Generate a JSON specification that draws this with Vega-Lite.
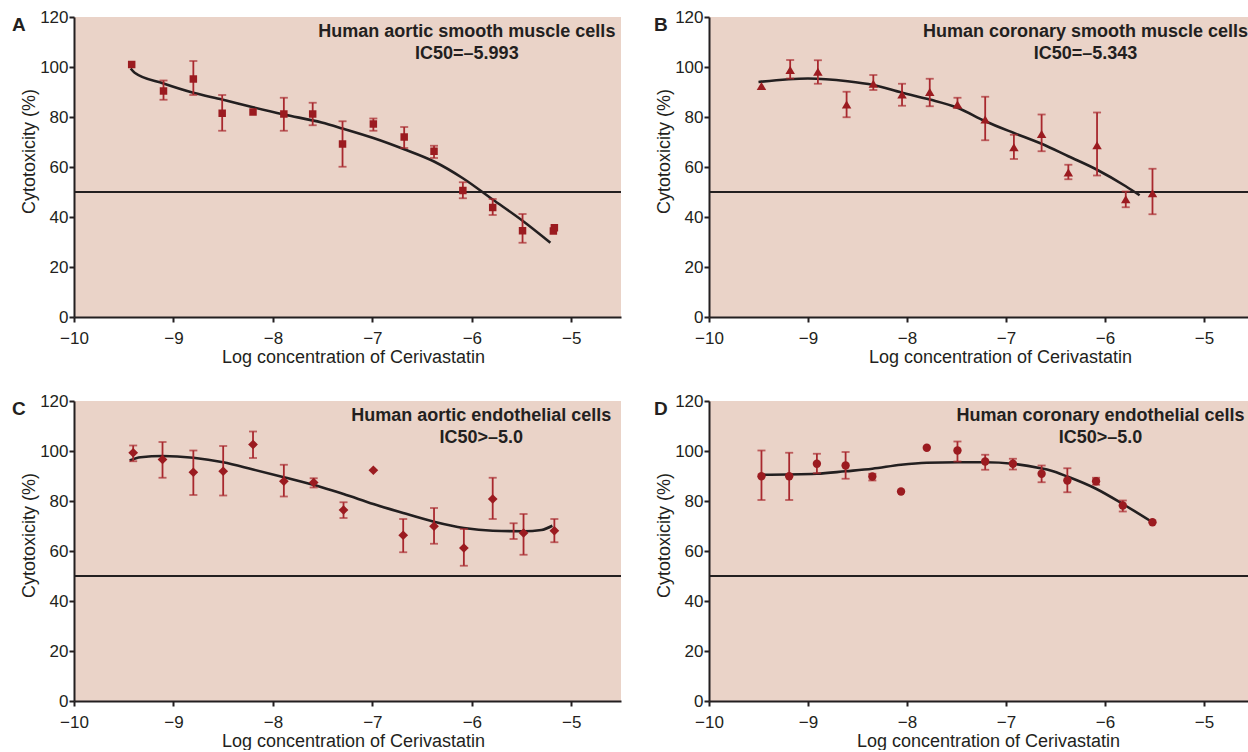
{
  "$schema": "https://vega.github.io/schema/vega-lite/v6.json",
  "padding": {"left": 12, "top": 8, "right": 0, "bottom": 0},
  "background": "white",
  "bounds": "flush",
  "columns": 2,
  "spacing": {"row": 84, "column": 88},
  "datasets": {
    "ptsA": [
      {"x": -9.42, "y": 101.0, "lo": null, "hi": null},
      {"x": -9.10, "y": 90.4, "lo": 86.9, "hi": 94.6},
      {"x": -8.80, "y": 95.2, "lo": 88.8, "hi": 102.4},
      {"x": -8.51, "y": 81.5, "lo": 74.5, "hi": 88.8},
      {"x": -8.20, "y": 82.0, "lo": null, "hi": null},
      {"x": -7.89, "y": 81.2, "lo": 74.5, "hi": 87.7},
      {"x": -7.60, "y": 81.2, "lo": 76.7, "hi": 85.7},
      {"x": -7.30, "y": 69.2, "lo": 60.1, "hi": 78.3},
      {"x": -6.99, "y": 77.2, "lo": 74.5, "hi": 79.4},
      {"x": -6.68, "y": 72.0, "lo": 67.6, "hi": 76.0},
      {"x": -6.38, "y": 66.3, "lo": 63.6, "hi": 68.5},
      {"x": -6.09, "y": 50.6, "lo": 47.5, "hi": 53.9},
      {"x": -5.79, "y": 43.8, "lo": 40.8, "hi": 47.2},
      {"x": -5.49, "y": 34.5, "lo": 29.7, "hi": 41.2},
      {"x": -5.18, "y": 34.4, "lo": null, "hi": null},
      {"x": -5.17, "y": 35.7, "lo": null, "hi": null}
    ],
    "curveA": [
      {"x": -9.43, "y": 99.4}, {"x": -9.39, "y": 97.7}, {"x": -9.10, "y": 93.4},
      {"x": -8.80, "y": 89.7}, {"x": -8.51, "y": 87.0}, {"x": -8.20, "y": 83.9},
      {"x": -7.89, "y": 81.0}, {"x": -7.51, "y": 77.8}, {"x": -7.30, "y": 75.4},
      {"x": -6.99, "y": 71.6}, {"x": -6.68, "y": 67.1}, {"x": -6.38, "y": 62.2},
      {"x": -6.09, "y": 55.5}, {"x": -5.79, "y": 47.0}, {"x": -5.49, "y": 38.5},
      {"x": -5.21, "y": 29.7}
    ],
    "ptsB": [
      {"x": -9.47, "y": 92.4, "lo": null, "hi": null},
      {"x": -9.18, "y": 98.8, "lo": 95.4, "hi": 102.8},
      {"x": -8.90, "y": 98.1, "lo": 93.3, "hi": 102.7},
      {"x": -8.61, "y": 85.0, "lo": 79.9, "hi": 90.1},
      {"x": -8.34, "y": 93.3, "lo": 90.8, "hi": 96.8},
      {"x": -8.05, "y": 89.0, "lo": 84.5, "hi": 93.3},
      {"x": -7.77, "y": 90.0, "lo": 84.3, "hi": 95.3},
      {"x": -7.49, "y": 85.0, "lo": 83.7, "hi": 87.7},
      {"x": -7.21, "y": 79.0, "lo": 70.7, "hi": 88.1},
      {"x": -6.92, "y": 67.9, "lo": 63.2, "hi": 72.9},
      {"x": -6.64, "y": 73.2, "lo": 66.3, "hi": 81.0},
      {"x": -6.37, "y": 57.8, "lo": 55.1, "hi": 60.9},
      {"x": -6.08, "y": 68.7, "lo": 56.6, "hi": 81.8},
      {"x": -5.79, "y": 47.1, "lo": 43.9, "hi": 50.2},
      {"x": -5.52, "y": 49.5, "lo": 41.1, "hi": 59.3}
    ],
    "curveB": [
      {"x": -9.50, "y": 94.0}, {"x": -9.00, "y": 95.4}, {"x": -8.60, "y": 94.3},
      {"x": -8.34, "y": 92.8}, {"x": -8.05, "y": 89.7}, {"x": -7.77, "y": 87.0},
      {"x": -7.49, "y": 83.7}, {"x": -7.21, "y": 78.3}, {"x": -6.92, "y": 73.6},
      {"x": -6.64, "y": 69.3}, {"x": -6.37, "y": 64.3}, {"x": -6.08, "y": 58.9},
      {"x": -5.79, "y": 52.3}, {"x": -5.65, "y": 48.7}
    ],
    "ptsC": [
      {"x": -9.405, "y": 99.3, "lo": 95.9, "hi": 102.2},
      {"x": -9.11, "y": 96.6, "lo": 89.3, "hi": 103.6},
      {"x": -8.80, "y": 91.5, "lo": 82.4, "hi": 100.2},
      {"x": -8.50, "y": 91.9, "lo": 82.2, "hi": 102.0},
      {"x": -8.20, "y": 102.6, "lo": 97.2, "hi": 107.8},
      {"x": -7.89, "y": 87.9, "lo": 81.8, "hi": 94.5},
      {"x": -7.59, "y": 87.4, "lo": 85.4, "hi": 89.1},
      {"x": -7.29, "y": 76.4, "lo": 73.2, "hi": 79.5},
      {"x": -6.99, "y": 92.3, "lo": null, "hi": null},
      {"x": -6.69, "y": 66.3, "lo": 59.5, "hi": 72.8},
      {"x": -6.38, "y": 69.9, "lo": 62.9, "hi": 77.2},
      {"x": -6.08, "y": 61.2, "lo": 54.1, "hi": 68.8},
      {"x": -5.79, "y": 80.8, "lo": 72.8, "hi": 89.3},
      {"x": -5.58, "y": null, "lo": 64.8, "hi": 71.1},
      {"x": -5.48, "y": 67.2, "lo": 58.5, "hi": 74.8},
      {"x": -5.17, "y": 68.1, "lo": 63.5, "hi": 72.8}
    ],
    "curveC": [
      {"x": -9.44, "y": 96.2}, {"x": -9.33, "y": 97.5}, {"x": -9.11, "y": 98.0},
      {"x": -8.80, "y": 97.3}, {"x": -8.50, "y": 95.5}, {"x": -8.20, "y": 92.6},
      {"x": -7.89, "y": 89.5}, {"x": -7.51, "y": 85.5}, {"x": -7.29, "y": 82.8},
      {"x": -6.99, "y": 78.8}, {"x": -6.69, "y": 75.2}, {"x": -6.38, "y": 71.7},
      {"x": -6.08, "y": 69.2}, {"x": -5.79, "y": 68.1}, {"x": -5.48, "y": 67.9},
      {"x": -5.30, "y": 68.4}, {"x": -5.19, "y": 70.1}
    ],
    "ptsD": [
      {"x": -9.47, "y": 89.9, "lo": 80.4, "hi": 100.2},
      {"x": -9.19, "y": 89.9, "lo": 80.4, "hi": 99.3},
      {"x": -8.91, "y": 94.9, "lo": 91.1, "hi": 98.9},
      {"x": -8.62, "y": 94.2, "lo": 88.9, "hi": 99.6},
      {"x": -8.35, "y": 89.8, "lo": 88.2, "hi": 90.9},
      {"x": -8.06, "y": 83.8, "lo": null, "hi": null},
      {"x": -7.80, "y": 101.3, "lo": null, "hi": null},
      {"x": -7.49, "y": 100.2, "lo": 95.8, "hi": 103.8},
      {"x": -7.21, "y": 95.8, "lo": 92.5, "hi": 98.5},
      {"x": -6.93, "y": 94.9, "lo": 92.6, "hi": 96.9},
      {"x": -6.64, "y": 90.9, "lo": 87.5, "hi": 94.2},
      {"x": -6.38, "y": 88.2, "lo": 83.5, "hi": 93.1},
      {"x": -6.09, "y": 87.9, "lo": 86.5, "hi": 89.3},
      {"x": -5.82, "y": 78.2, "lo": 75.8, "hi": 80.2},
      {"x": -5.52, "y": 71.5, "lo": null, "hi": null}
    ],
    "curveD": [
      {"x": -9.47, "y": 90.5}, {"x": -8.91, "y": 90.9}, {"x": -8.62, "y": 91.9},
      {"x": -8.35, "y": 92.9}, {"x": -8.06, "y": 94.5}, {"x": -7.80, "y": 95.3},
      {"x": -7.49, "y": 95.5}, {"x": -7.21, "y": 95.5}, {"x": -6.93, "y": 94.9},
      {"x": -6.65, "y": 93.1}, {"x": -6.55, "y": 92.2}, {"x": -6.38, "y": 89.8},
      {"x": -6.09, "y": 84.9}, {"x": -5.82, "y": 78.8}, {"x": -5.52, "y": 71.5}
    ]
  },
  "concat": [
    {
      "width": 547, "height": 300,
      "layer": [
        {"data": {"values": [{}]}, "mark": {"type": "rule", "color": "#231F20", "strokeWidth": 2}, "encoding": {"y": {"datum": 50, "type": "quantitative", "scale": {"domain": [0, 120], "nice": false}, "axis": {"values": [0, 20, 40, 60, 80, 100, 120], "format": "d", "title": "Cytotoxicity (%)", "titleY": 134}}}},
        {"data": {"name": "curveA"}, "mark": {"type": "line", "interpolate": "monotone", "color": "#231F20", "strokeWidth": 2.6},
         "encoding": {"x": {"field": "x", "type": "quantitative", "scale": {"domain": [-10, -4.5], "nice": false, "zero": false}, "axis": {"values": [-10, -9, -8, -7, -6, -5], "format": "d", "title": "Log concentration of Cerivastatin", "titleX": 279}},
                      "y": {"field": "y", "type": "quantitative", "title": "Cytotoxicity (%)"}}},
        {"data": {"name": "ptsA"}, "transform": [{"filter": "datum.lo != null"}], "mark": {"type": "errorbar", "ticks": true, "color": "#A8282E", "thickness": 1.8, "size": 8},
         "encoding": {"x": {"field": "x", "type": "quantitative", "title": "Log concentration of Cerivastatin"}, "y": {"field": "lo", "type": "quantitative", "title": "Cytotoxicity (%)"}, "y2": {"field": "hi"}}},
        {"data": {"name": "ptsA"}, "mark": {"type": "point", "shape": "square", "filled": true, "opacity": 1, "color": "#9B1B20", "size": 56},
         "encoding": {"x": {"field": "x", "type": "quantitative", "title": "Log concentration of Cerivastatin"}, "y": {"field": "y", "type": "quantitative", "title": "Cytotoxicity (%)"}}},
        {"data": {"values": [{}]}, "mark": {"type": "text", "fontWeight": "bold", "fontSize": 18, "align": "center", "baseline": "alphabetic", "lineBreak": "\n", "lineHeight": 22, "color": "#231F20"},
         "encoding": {"x": {"datum": -6.05, "type": "quantitative"}, "y": {"datum": 112, "type": "quantitative"}, "text": {"value": "Human aortic smooth muscle cells\nIC50=–5.993"}}},
        {"data": {"values": [{}]}, "mark": {"type": "text", "fontWeight": "bold", "fontSize": 19, "align": "left", "baseline": "top", "dx": -62, "dy": -1, "color": "#231F20"},
         "encoding": {"x": {"datum": -10, "type": "quantitative"}, "y": {"datum": 120, "type": "quantitative"}, "text": {"value": "A"}}}
      ]
    },
    {
      "width": 540, "height": 300,
      "layer": [
        {"data": {"values": [{}]}, "mark": {"type": "rule", "color": "#231F20", "strokeWidth": 2}, "encoding": {"y": {"datum": 50, "type": "quantitative", "scale": {"domain": [0, 120], "nice": false}, "axis": {"values": [0, 20, 40, 60, 80, 100, 120], "format": "d", "title": "Cytotoxicity (%)", "titleY": 134}}}},
        {"data": {"name": "curveB"}, "mark": {"type": "line", "interpolate": "monotone", "color": "#231F20", "strokeWidth": 2.6},
         "encoding": {"x": {"field": "x", "type": "quantitative", "scale": {"domain": [-10, -4.545], "nice": false, "zero": false}, "axis": {"values": [-10, -9, -8, -7, -6, -5], "format": "d", "title": "Log concentration of Cerivastatin", "titleX": 291}},
                      "y": {"field": "y", "type": "quantitative", "title": "Cytotoxicity (%)"}}},
        {"data": {"name": "ptsB"}, "transform": [{"filter": "datum.lo != null"}], "mark": {"type": "errorbar", "ticks": true, "color": "#A8282E", "thickness": 1.8, "size": 8},
         "encoding": {"x": {"field": "x", "type": "quantitative", "title": "Log concentration of Cerivastatin"}, "y": {"field": "lo", "type": "quantitative", "title": "Cytotoxicity (%)"}, "y2": {"field": "hi"}}},
        {"data": {"name": "ptsB"}, "mark": {"type": "point", "shape": "triangle-up", "filled": true, "opacity": 1, "color": "#9B1B20", "size": 90},
         "encoding": {"x": {"field": "x", "type": "quantitative", "title": "Log concentration of Cerivastatin"}, "y": {"field": "y", "type": "quantitative", "title": "Cytotoxicity (%)"}}},
        {"data": {"values": [{}]}, "mark": {"type": "text", "fontWeight": "bold", "fontSize": 18, "align": "center", "baseline": "alphabetic", "lineBreak": "\n", "lineHeight": 22, "color": "#231F20", "clip": true},
         "encoding": {"x": {"datum": -6.197, "type": "quantitative"}, "y": {"datum": 112, "type": "quantitative"}, "text": {"value": "Human coronary smooth muscle cells\nIC50=–5.343"}}},
        {"data": {"values": [{}]}, "mark": {"type": "text", "fontWeight": "bold", "fontSize": 19, "align": "left", "baseline": "top", "dx": -55, "dy": -1, "color": "#231F20"},
         "encoding": {"x": {"datum": -10, "type": "quantitative"}, "y": {"datum": 120, "type": "quantitative"}, "text": {"value": "B"}}}
      ]
    },
    {
      "width": 547, "height": 300,
      "layer": [
        {"data": {"values": [{}]}, "mark": {"type": "rule", "color": "#231F20", "strokeWidth": 2}, "encoding": {"y": {"datum": 50, "type": "quantitative", "scale": {"domain": [0, 120], "nice": false}, "axis": {"values": [0, 20, 40, 60, 80, 100, 120], "format": "d", "title": "Cytotoxicity (%)", "titleY": 134}}}},
        {"data": {"name": "curveC"}, "mark": {"type": "line", "interpolate": "monotone", "color": "#231F20", "strokeWidth": 2.6},
         "encoding": {"x": {"field": "x", "type": "quantitative", "scale": {"domain": [-10, -4.5], "nice": false, "zero": false}, "axis": {"values": [-10, -9, -8, -7, -6, -5], "format": "d", "title": "Log concentration of Cerivastatin", "titleX": 279}},
                      "y": {"field": "y", "type": "quantitative", "title": "Cytotoxicity (%)"}}},
        {"data": {"name": "ptsC"}, "transform": [{"filter": "datum.lo != null"}], "mark": {"type": "errorbar", "ticks": true, "color": "#A8282E", "thickness": 1.8, "size": 8},
         "encoding": {"x": {"field": "x", "type": "quantitative", "title": "Log concentration of Cerivastatin"}, "y": {"field": "lo", "type": "quantitative", "title": "Cytotoxicity (%)"}, "y2": {"field": "hi"}}},
        {"data": {"name": "ptsC"}, "mark": {"type": "point", "shape": "diamond", "filled": true, "opacity": 1, "color": "#9B1B20", "size": 95},
         "encoding": {"x": {"field": "x", "type": "quantitative", "title": "Log concentration of Cerivastatin"}, "y": {"field": "y", "type": "quantitative", "title": "Cytotoxicity (%)"}}},
        {"data": {"values": [{}]}, "mark": {"type": "text", "fontWeight": "bold", "fontSize": 18, "align": "center", "baseline": "alphabetic", "lineBreak": "\n", "lineHeight": 22, "color": "#231F20"},
         "encoding": {"x": {"datum": -5.905, "type": "quantitative"}, "y": {"datum": 112, "type": "quantitative"}, "text": {"value": "Human aortic endothelial cells\nIC50>–5.0"}}},
        {"data": {"values": [{}]}, "mark": {"type": "text", "fontWeight": "bold", "fontSize": 19, "align": "left", "baseline": "top", "dx": -62, "dy": -1, "color": "#231F20"},
         "encoding": {"x": {"datum": -10, "type": "quantitative"}, "y": {"datum": 120, "type": "quantitative"}, "text": {"value": "C"}}}
      ]
    },
    {
      "width": 540, "height": 300,
      "layer": [
        {"data": {"values": [{}]}, "mark": {"type": "rule", "color": "#231F20", "strokeWidth": 2}, "encoding": {"y": {"datum": 50, "type": "quantitative", "scale": {"domain": [0, 120], "nice": false}, "axis": {"values": [0, 20, 40, 60, 80, 100, 120], "format": "d", "title": "Cytotoxicity (%)", "titleY": 134}}}},
        {"data": {"name": "curveD"}, "mark": {"type": "line", "interpolate": "monotone", "color": "#231F20", "strokeWidth": 2.6},
         "encoding": {"x": {"field": "x", "type": "quantitative", "scale": {"domain": [-10, -4.545], "nice": false, "zero": false}, "axis": {"values": [-10, -9, -8, -7, -6, -5], "format": "d", "title": "Log concentration of Cerivastatin", "titleX": 279}},
                      "y": {"field": "y", "type": "quantitative", "title": "Cytotoxicity (%)"}}},
        {"data": {"name": "ptsD"}, "transform": [{"filter": "datum.lo != null"}], "mark": {"type": "errorbar", "ticks": true, "color": "#A8282E", "thickness": 1.8, "size": 8},
         "encoding": {"x": {"field": "x", "type": "quantitative", "title": "Log concentration of Cerivastatin"}, "y": {"field": "lo", "type": "quantitative", "title": "Cytotoxicity (%)"}, "y2": {"field": "hi"}}},
        {"data": {"name": "ptsD"}, "mark": {"type": "point", "shape": "circle", "filled": true, "opacity": 1, "color": "#9B1B20", "size": 70},
         "encoding": {"x": {"field": "x", "type": "quantitative", "title": "Log concentration of Cerivastatin"}, "y": {"field": "y", "type": "quantitative", "title": "Cytotoxicity (%)"}}},
        {"data": {"values": [{}]}, "mark": {"type": "text", "fontWeight": "bold", "fontSize": 18, "align": "center", "baseline": "alphabetic", "lineBreak": "\n", "lineHeight": 22, "color": "#231F20", "clip": true},
         "encoding": {"x": {"datum": -6.045, "type": "quantitative"}, "y": {"datum": 112, "type": "quantitative"}, "text": {"value": "Human coronary endothelial cells\nIC50>–5.0"}}},
        {"data": {"values": [{}]}, "mark": {"type": "text", "fontWeight": "bold", "fontSize": 19, "align": "left", "baseline": "top", "dx": -55, "dy": -1, "color": "#231F20"},
         "encoding": {"x": {"datum": -10, "type": "quantitative"}, "y": {"datum": 120, "type": "quantitative"}, "text": {"value": "D"}}}
      ]
    }
  ],
  "config": {
    "font": "Liberation Sans",
    "view": {"fill": "#EAD3C8", "stroke": null},
    "axis": {
      "grid": false,
      "domainColor": "#231F20", "domainWidth": 2,
      "tickColor": "#231F20", "tickWidth": 2, "tickSize": 5,
      "labelFont": "Liberation Sans", "labelFontSize": 17, "labelColor": "#231F20",
      "titleFont": "Liberation Sans", "titleFontSize": 18, "titleFontWeight": "normal", "titleColor": "#231F20"
    },
    "axisX": {"labelPadding": 8, "titlePadding": 2, "labelFlush": false},
    "axisY": {"labelPadding": 1, "titlePadding": 1}
  }
}
